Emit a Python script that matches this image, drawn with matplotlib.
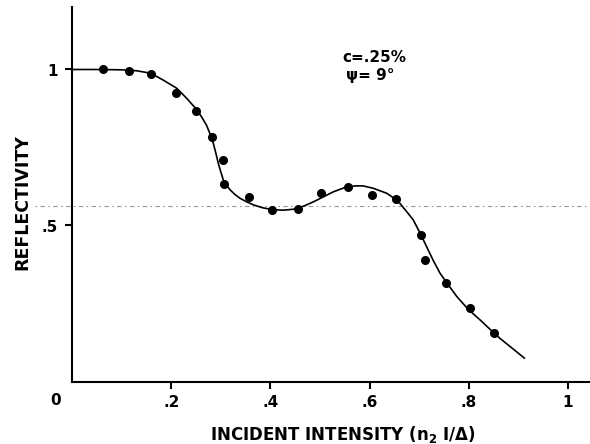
import numpy as np
import matplotlib
matplotlib.use("Agg")
import matplotlib.pyplot as plt

# measured points (intensity, reflectivity)
pts_x = [0.063, 0.114, 0.159, 0.210, 0.249, 0.282, 0.304, 0.306, 0.356, 0.403,
         0.455, 0.503, 0.556, 0.604, 0.653, 0.704, 0.711, 0.754, 0.802, 0.851]
pts_y = [1.000, 0.996, 0.986, 0.924, 0.868, 0.785, 0.709, 0.632, 0.591, 0.549,
         0.552, 0.604, 0.624, 0.597, 0.584, 0.470, 0.389, 0.315, 0.235, 0.156]

# theory curve
curve_x = [0.0, 0.05, 0.10, 0.130, 0.159, 0.184, 0.211, 0.231, 0.249, 0.261,
           0.271, 0.278, 0.285, 0.290, 0.295, 0.300, 0.305, 0.312, 0.319, 0.328,
           0.339, 0.352, 0.366, 0.384, 0.403, 0.425, 0.446, 0.467, 0.487, 0.507,
           0.527, 0.554, 0.574, 0.587, 0.608, 0.635, 0.654, 0.661, 0.675, 0.688,
           0.702, 0.715, 0.728, 0.742, 0.759, 0.776, 0.799, 0.823, 0.843, 0.863,
           0.888, 0.912]
curve_y = [1.000, 1.000, 0.999, 0.996, 0.988, 0.966, 0.940, 0.908, 0.876, 0.849,
           0.822, 0.795, 0.763, 0.732, 0.699, 0.672, 0.646, 0.628, 0.614, 0.600,
           0.587, 0.576, 0.566, 0.557, 0.551, 0.549, 0.552, 0.562, 0.576, 0.592,
           0.608, 0.624, 0.627, 0.627, 0.619, 0.603, 0.582, 0.571, 0.544, 0.518,
           0.475, 0.432, 0.389, 0.347, 0.309, 0.272, 0.231, 0.197, 0.167, 0.138,
           0.106, 0.075]

dotted_level = 0.563
x_ticks = [0.2, 0.4, 0.6, 0.8, 1.0]
x_ticklabels = [".2", ".4", ".6", ".8", "1"]
y_ticks = [0.5, 1.0]
y_ticklabels = [".5", "1"]

plt.rcParams['font.family'] = ['DejaVu Sans']
plt.rcParams['font.weight'] = 'bold'

fig = plt.figure(figsize=(5.9, 4.44), dpi=100)
W, H = 590, 444
left, right, bottom, top = 72, 590, 444 - 381.5, 444 - 7
ax = fig.add_axes([left / W, bottom / H, (right - left) / W, (top - bottom) / H])
ax.set_xlim(0, (right - left) / 496)
ax.set_ylim(0, (top - bottom) / 312)

for s in ['top', 'right']:
    ax.spines[s].set_visible(False)
for s in ['left', 'bottom']:
    ax.spines[s].set_linewidth(1.5)

ax.plot([-0.075, 1.1], [dotted_level, dotted_level], color='#999999', lw=0.8,
        ls=(0, (1.5, 3, 4, 3)), clip_on=False)
ax.plot(curve_x, curve_y, color='black', lw=1.2, solid_joinstyle='round')
ax.plot(pts_x, pts_y, 'o', color='black', ms=5.5)

ax.set_xticks(x_ticks)
ax.set_xticklabels(x_ticklabels, fontsize=11, fontweight='bold')
ax.set_yticks(y_ticks)
ax.set_yticklabels(y_ticklabels, fontsize=11, fontweight='bold')
ax.tick_params(axis='both', direction='out', length=5, width=1.5, pad=5)

ax.annotate("0", xy=(0, 0), xytext=(-8, -14), textcoords='offset points',
            ha='right', va='center', fontsize=11, fontweight='bold')

ax.text(0.546, 1.037, "c=.25%", fontsize=11, fontweight='bold', va='center')
ax.text(0.552, 0.98, "ψ= 9°", fontsize=11, fontweight='bold', va='center')

fig.text(343 / W, 1 - 434 / H, "INCIDENT INTENSITY (n$_2$ I/Δ)", ha='center',
         va='center', fontsize=12, fontweight='bold')
fig.text(22 / W, 1 - 202 / H, "REFLECTIVITY", ha='center', va='center',
         rotation=90, fontsize=12.5, fontweight='bold')

fig.savefig("out.png", dpi=100)
